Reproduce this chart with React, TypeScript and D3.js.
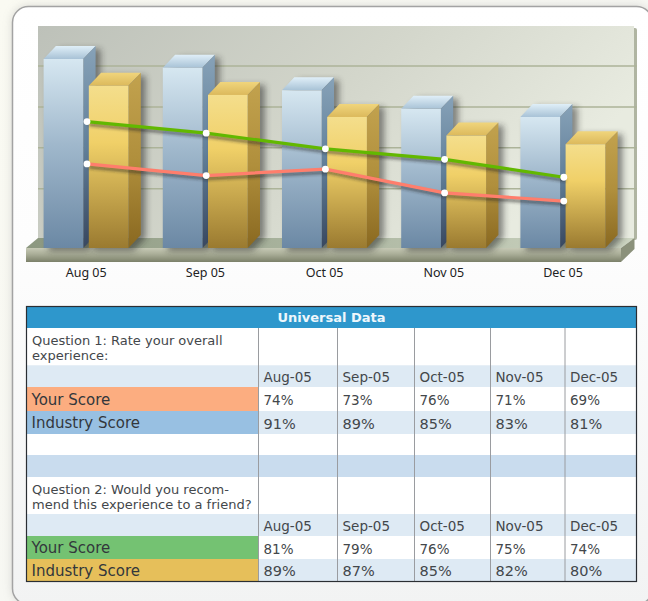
import React from "react";
import * as d3 from "d3";

const months = ["Aug 05", "Sep 05", "Oct 05", "Nov 05", "Dec 05"];
// chart values (shared value axis)
const blueBars = [91, 89.5, 85.6, 82.4, 81];
const goldBars = [86.4, 84.8, 81, 77.8, 76.3];
const greenLine = [80.2, 78.2, 75.5, 73.7, 70.6];
const redLine = [72.9, 70.9, 72, 67.9, 66.5];
const gridValues = [68.6, 75.7, 82.7, 89.8];

const tableTitle = "Universal Data";
const tableMonths = ["Aug-05", "Sep-05", "Oct-05", "Nov-05", "Dec-05"];
const q1Lines = ["Question 1: Rate your overall", "experience:"];
const q2Lines = ["Question 2: Would you recom-", "mend this experience to a friend?"];
const q1Your = ["74%", "73%", "76%", "71%", "69%"];
const q1Industry = ["91%", "89%", "85%", "83%", "81%"];
const q2Your = ["81%", "79%", "76%", "75%", "74%"];
const q2Industry = ["89%", "87%", "85%", "82%", "80%"];

const columnEdges = [26, 258.5, 337.5, 414.5, 490.5, 565, 636.5];
const rowEdges = [306.5, 328, 365.3, 387, 411, 434, 455, 477, 514, 536, 559, 581];

const W = 648, H = 601;
const baseY = 248;
const y = d3.scaleLinear().domain([58.4, 91]).range([baseY, 59]);
const x = d3.scaleBand<string>().domain(months).range([43.6, 639.6]);
const barW = 39.7, goldOffset = 45.2, dx = 12.3, dy = 13, pointOffset = 43.4;

const font = "'DejaVu Sans', Verdana, sans-serif";
const textCol = "#43474b";

function Bar({ bx, top, kind }: { bx: number; top: number; kind: string }) {
  const right = bx + barW;
  return (
    <g>
      <path d={`M${bx},${top}L${bx + dx},${top - dy}H${right + dx}V${baseY - dy}L${right},${baseY}H${bx}Z`}
        fill="#222" opacity={0.5} filter="url(#blur)" transform="translate(5,3)" />
      <path d={`M${bx},${top}L${bx + dx},${top - dy}H${right + dx}L${right},${top}Z`} fill={`url(#${kind}Top)`} />
      <path d={`M${right},${top}L${right + dx},${top - dy}V${baseY - dy}L${right},${baseY}Z`} fill={`url(#${kind}Side)`} />
      <rect x={bx} y={top} width={barW} height={baseY - top} fill={`url(#${kind}Front)`} />
    </g>
  );
}

export default function App() {
  const line = d3.line<number>().x((_, i) => x(months[i])! + pointOffset).y((v) => y(v));
  const rows: { values: string[]; ty: number; size: number }[] = [
    { values: tableMonths, ty: 381.5, size: 13.5 },
    { values: q1Your, ty: 405, size: 13.5 },
    { values: q1Industry, ty: 428.5, size: 14.5 },
    { values: tableMonths, ty: 530.5, size: 13.5 },
    { values: q2Your, ty: 553.5, size: 13.5 },
    { values: q2Industry, ty: 576, size: 14.5 },
  ];
  const bands = ["#2e97cc", "#ffffff", "#deeaf4", "#ffffff", "#deeaf4", "#ffffff", "#c9dcee", "#ffffff", "#deeaf4", "#ffffff", "#deeaf4"];
  const labelFills: [number, string][] = [[3, "#fcad80"], [4, "#98c0e2"], [9, "#74c272"], [10, "#e6bf5a"]];
  const labels: [string, number][] = [["Your Score", 405], ["Industry Score", 428], ["Your Score", 553], ["Industry Score", 576]];
  return (
    <svg width={W} height={H} viewBox={`0 0 ${W} ${H}`}
      style={{ position: "fixed", left: 0, top: 0, display: "block" }}>
      <defs>
        <filter id="blur" x="-30%" y="-30%" width="160%" height="160%"><feGaussianBlur stdDeviation="3" /></filter>
        <filter id="blurSmall" x="-10%" y="-50%" width="120%" height="200%"><feGaussianBlur stdDeviation="1.5" /></filter>
        <filter id="cardShadow" x="-10%" y="-10%" width="120%" height="120%"><feGaussianBlur stdDeviation="5" /></filter>
        <linearGradient id="page" x1="0" y1="0" x2="1" y2="1">
          <stop offset="0" stopColor="#fafaf2" /><stop offset="1" stopColor="#f4f5f4" />
        </linearGradient>
        <linearGradient id="card" x1="0" y1="0" x2="0" y2="1">
          <stop offset="0" stopColor="#ffffff" /><stop offset="0.4" stopColor="#fdfdfd" /><stop offset="1" stopColor="#f2f3f3" />
        </linearGradient>
        <linearGradient id="wall" x1="0" y1="0" x2="1" y2="0.35">
          <stop offset="0" stopColor="#bdc1b9" /><stop offset="0.55" stopColor="#d3d6cb" /><stop offset="1" stopColor="#e8ebe0" />
        </linearGradient>
        <linearGradient id="floorTop" x1="0" y1="0" x2="1" y2="0">
          <stop offset="0" stopColor="#8c9880" /><stop offset="1" stopColor="#cdd5c2" />
        </linearGradient>
        <linearGradient id="floorFront" x1="0" y1="0" x2="0" y2="1">
          <stop offset="0" stopColor="#c6c9b5" /><stop offset="0.45" stopColor="#a9ad97" /><stop offset="1" stopColor="#7b8069" />
        </linearGradient>
        <linearGradient id="blueFront" x1="0" y1="0" x2="0" y2="1">
          <stop offset="0" stopColor="#d6e7f1" /><stop offset="0.45" stopColor="#a0b8cc" /><stop offset="1" stopColor="#6b88a4" />
        </linearGradient>
        <linearGradient id="blueSide" x1="0" y1="0" x2="0" y2="1">
          <stop offset="0" stopColor="#87a2b8" /><stop offset="0.5" stopColor="#62809a" /><stop offset="1" stopColor="#38475f" />
        </linearGradient>
        <linearGradient id="blueTop" x1="0" y1="0" x2="0" y2="1">
          <stop offset="0" stopColor="#e0eff8" /><stop offset="1" stopColor="#a8c2d6" />
        </linearGradient>
        <linearGradient id="goldFront" x1="0" y1="0" x2="0" y2="1">
          <stop offset="0" stopColor="#f4de8c" /><stop offset="0.35" stopColor="#f0d068" /><stop offset="1" stopColor="#9a7a30" />
        </linearGradient>
        <linearGradient id="goldSide" x1="0" y1="0" x2="0" y2="1">
          <stop offset="0" stopColor="#c2a24e" /><stop offset="0.5" stopColor="#b08f3c" /><stop offset="1" stopColor="#896820" />
        </linearGradient>
        <linearGradient id="goldTop" x1="0" y1="0" x2="0" y2="1">
          <stop offset="0" stopColor="#f0d57c" /><stop offset="1" stopColor="#dcb95c" />
        </linearGradient>
      </defs>

      <rect width={W} height={H} fill="url(#page)" />
      <rect x={12} y={6} width={640} height={598} rx={16} fill="#999" opacity={0.35} filter="url(#cardShadow)" />
      <rect x={12.5} y={6.5} width={640} height={598} rx={16} fill="url(#card)" stroke="#a3a3a3" strokeWidth={1.5} />

      {/* back wall */}
      <rect x={631} y={28} width={6} height={212} rx={2} fill="#b0b5a2" />
      <rect x={38} y={26} width={596} height={213} fill="url(#wall)" />
      {gridValues.map((g) => (
        <line key={g} x1={38} x2={637} y1={y(g)} y2={y(g)} stroke="#acb399" strokeWidth={1.5} />
      ))}

      {/* floor */}
      <path d="M26,248L38,238H634.5L621,248Z" fill="url(#floorTop)" />
      <rect x={26} y={248} width={595} height={14} fill="url(#floorFront)" />
      <path d="M621,248L634.5,238V249L621,262Z" fill="#8b917b" />

      {/* bars */}
      {months.map((m, i) => (
        <g key={m}>
          <Bar bx={x(m)!} top={y(blueBars[i])} kind="blue" />
          <Bar bx={x(m)! + goldOffset} top={y(goldBars[i])} kind="gold" />
        </g>
      ))}

      {/* lines */}
      {[greenLine, redLine].map((s, i) => (
        <path key={i} d={line(s)!} fill="none" stroke="#222" strokeOpacity={0.5} strokeWidth={3.5}
          transform="translate(2,3)" filter="url(#blurSmall)" />
      ))}
      <path d={line(greenLine)!} fill="none" stroke="#62b800" strokeWidth={3.2} />
      <path d={line(redLine)!} fill="none" stroke="#ff7e6c" strokeWidth={3.2} />
      {[greenLine, redLine].flatMap((s, k) => s.map((v, i) => (
        <circle key={`${k}-${i}`} cx={x(months[i])! + pointOffset} cy={y(v)} r={3.4} fill="#fff" />
      )))}

      {/* axis labels */}
      {months.map((m) => (
        <text key={m} x={x(m)! + 42.6} y={277} textAnchor="middle" fontFamily="'Noto Sans', sans-serif"
          fontSize={12.5} fill="#222">{m}</text>
      ))}

      {/* table */}
      <g fontFamily={font} fill={textCol}>
        {bands.map((c, i) => (
          <rect key={i} x={26} y={rowEdges[i]} width={610.5} height={rowEdges[i + 1] - rowEdges[i]} fill={c} />
        ))}
        {labelFills.map(([r, c]) => (
          <rect key={r} x={26.5} y={rowEdges[r]} width={232} height={rowEdges[r + 1] - rowEdges[r]} fill={c} />
        ))}
        {columnEdges.slice(1, 6).map((e) => (
          <line key={e} x1={e} x2={e} y1={328} y2={581} stroke="#9a9ca0" strokeWidth={1} />
        ))}
        <rect x={26.5} y={306.5} width={610} height={275} fill="none" stroke="#2a2e33" strokeWidth={1.2} />
        <text x={331.5} y={322} textAnchor="middle" fontWeight="bold" fontSize={13} fill="#eef7fc">{tableTitle}</text>
        {q1Lines.map((t, i) => <text key={t} x={32} y={344.5 + i * 15.7} fontSize={13}>{t}</text>)}
        {q2Lines.map((t, i) => <text key={t} x={32} y={493.5 + i * 15.7} fontSize={13}>{t}</text>)}
        {labels.map(([t, ty], i) => <text key={i} x={31.5} y={ty} fontSize={15} fill="#33373c">{t}</text>)}
        {rows.map((r, ri) => r.values.map((v, ci) => (
          <text key={`${ri}-${ci}`} x={columnEdges[ci + 1] + 5} y={r.ty} fontSize={r.size}>{v}</text>
        )))}
      </g>
    </svg>
  );
}
